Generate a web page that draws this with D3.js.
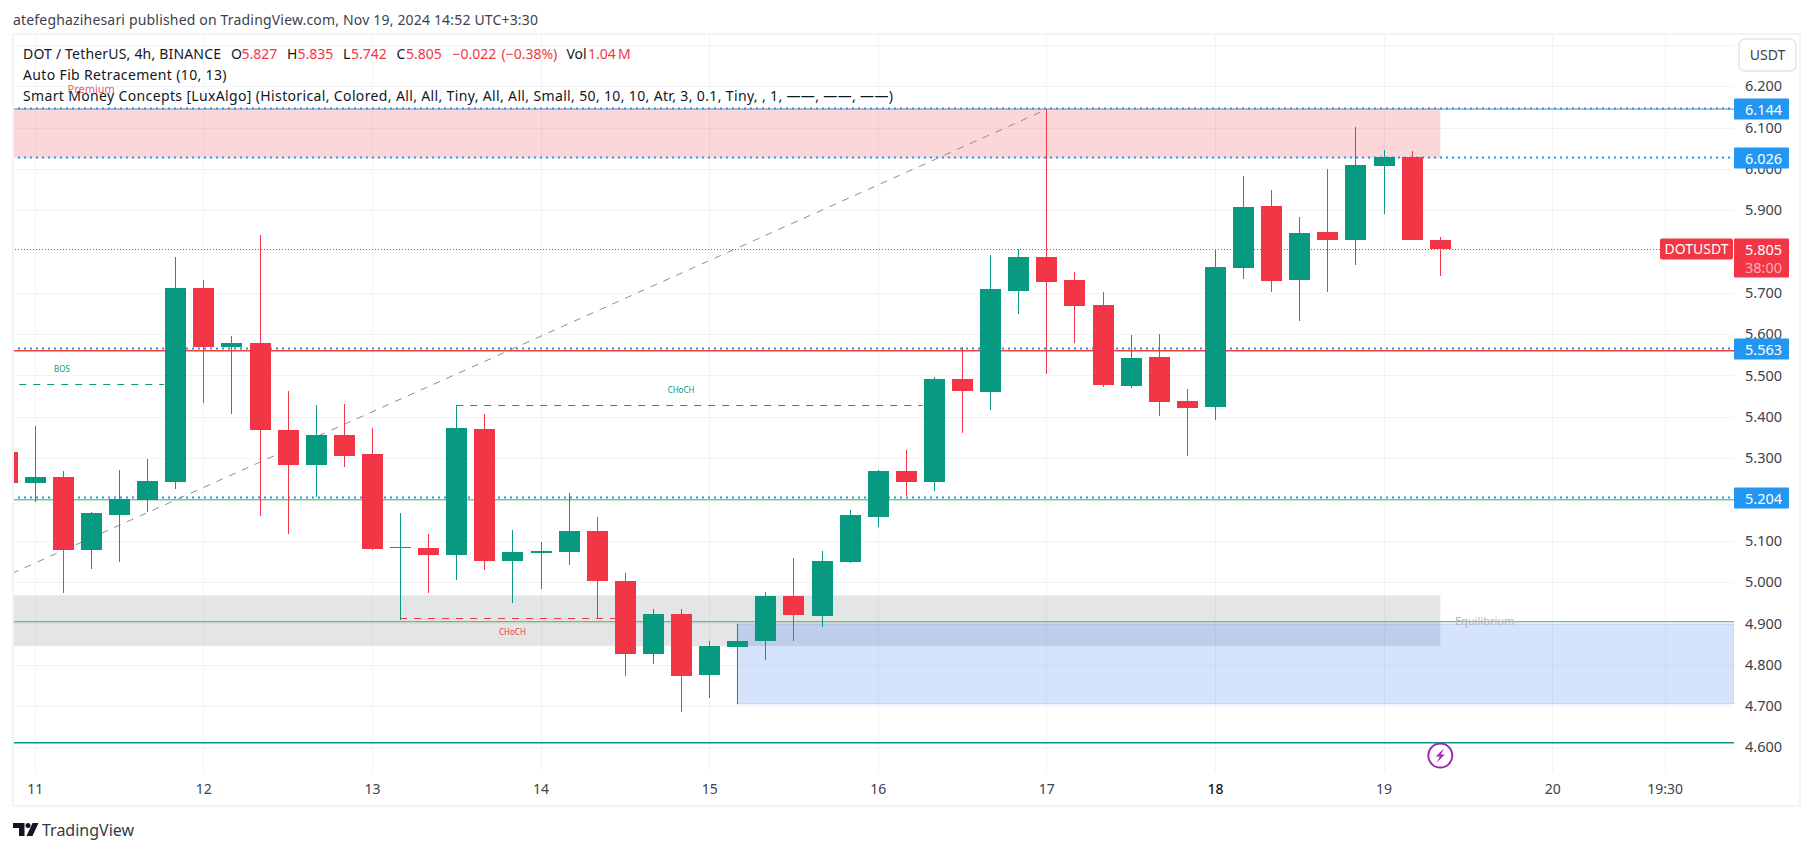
<!DOCTYPE html>
<html>
<head>
<meta charset="utf-8">
<title>DOT / TetherUS, 4h</title>
<script src="https://cdn.jsdelivr.net/npm/d3@7"></script>
<style>
  html, body { margin: 0; padding: 0; background: #fff; }
  svg { display: block; font-family: "Noto Sans", sans-serif; }
</style>
</head>
<body>
<div id="chart"></div>
<script>
// 4h candles, first one (index -1) is cut off by the left edge
const firstBar = -1;
const opens = [5.315, 5.240, 5.254, 5.078, 5.162, 5.199, 5.242, 5.712, 5.569, 5.579, 5.368, 5.283, 5.356, 5.310, 5.082, 5.082, 5.065, 5.370, 5.051, 5.070, 5.073, 5.124, 5.002, 4.826, 4.923, 4.775, 4.843, 4.857, 4.966, 4.918, 5.049, 5.157, 5.269, 5.242, 5.492, 5.460, 5.705, 5.787, 5.731, 5.671, 5.475, 5.545, 5.438, 5.424, 5.760, 5.910, 5.731, 5.847, 5.827, 6.007, 6.029, 5.827];
const highs = [5.315, 5.378, 5.269, 5.170, 5.271, 5.298, 5.787, 5.731, 5.596, 5.840, 5.462, 5.429, 5.431, 5.373, 5.167, 5.116, 5.429, 5.407, 5.126, 5.097, 5.215, 5.157, 5.022, 4.935, 4.935, 4.857, 4.898, 4.976, 5.058, 5.075, 5.174, 5.271, 5.320, 5.496, 5.569, 5.792, 5.806, 6.145, 5.750, 5.702, 5.598, 5.600, 5.467, 5.804, 5.983, 5.949, 5.884, 6.000, 6.102, 6.046, 6.043, 5.835];
const lows = [5.240, 5.194, 4.973, 5.032, 5.049, 5.170, 5.225, 5.433, 5.407, 5.160, 5.116, 5.206, 5.278, 5.078, 4.908, 4.973, 5.005, 5.029, 4.949, 4.983, 5.041, 4.913, 4.773, 4.802, 4.685, 4.719, 4.705, 4.811, 4.857, 4.891, 5.046, 5.133, 5.208, 5.220, 5.361, 5.416, 5.649, 5.504, 5.579, 5.472, 5.470, 5.402, 5.305, 5.392, 5.734, 5.702, 5.632, 5.702, 5.767, 5.891, 5.827, 5.742];
const closes = [5.240, 5.254, 5.078, 5.167, 5.201, 5.245, 5.712, 5.570, 5.579, 5.368, 5.283, 5.356, 5.305, 5.080, 5.085, 5.065, 5.373, 5.051, 5.073, 5.075, 5.124, 5.002, 4.826, 4.923, 4.773, 4.845, 4.857, 4.966, 4.920, 5.051, 5.162, 5.269, 5.242, 5.492, 5.462, 5.709, 5.787, 5.726, 5.668, 5.477, 5.542, 5.436, 5.421, 5.763, 5.908, 5.729, 5.845, 5.827, 6.010, 6.029, 5.827, 5.805];

const priceGrid = [4.6, 4.7, 4.8, 4.9, 5.0, 5.1, 5.2, 5.3, 5.4, 5.5, 5.6, 5.7, 5.9, 6.0, 6.1, 6.2, 6.3];
const priceTicks = [4.6, 4.7, 4.8, 4.9, 5.0, 5.1, 5.3, 5.4, 5.5, 5.6, 5.7, 5.9, 6.0, 6.1, 6.2];
const timeTicks = [0, 6, 12, 18, 24, 30, 36, 42, 48, 54, 58];
const timeLabels = ['11', '12', '13', '14', '15', '16', '17', '18', '19', '20', '19:30'];

// levels and zones of the two indicators
const pivotLevels = [6.144, 6.026, 5.563, 5.204];
const fibLevels = [6.145, 5.560, 5.199, 4.904, 4.611];
const fibColors = ['#6f84ad', '#f44336', '#81c784', '#4caf50', '#089981'];
const fibWidths = [1, 1.5, 1.5, 1, 1.5];
const zoneBars = [[-2, 50], [-2, 50], [25, 62]];
const zonePrices = [[6.144, 6.026], [4.968, 4.845], [4.898, 4.705]];
const zoneColors = ['#f23645', '#787b86', '#2d73f0'];
const trendBars = [-0.81, 36];
const trendPrices = [5.021, 6.144];
const structureLabels = ['BOS', 'CHoCH', 'CHoCH'];
const structurePrices = [5.479, 5.429, 4.912];
const structureStart = [-0.55, 15, 13];
const structureEnd = [4.6, 31.6, 21];
const structureLabelBars = [0.97, 23, 17];
const structureColors = ['#089981', '#089981', '#f23645'];

const lastPrice = 5.805;
const countdown = '38:00';
const currency = 'USDT';
const publishLine = 'atefeghazihesari published on TradingView.com, Nov 19, 2024 14:52 UTC+3:30';
const legendLine2 = 'Auto Fib Retracement (10, 13)';
const legendLine3 = 'Smart Money Concepts [LuxAlgo] (Historical, Colored, All, All, Tiny, All, All, Small, 50, 10, 10, Atr, 3, 0.1, Tiny, , 1, ——, ——, ——)';
const ohlcText = ['DOT / TetherUS, 4h, BINANCE', 'O', '5.827', 'H', '5.835', 'L', '5.742', 'C', '5.805', '−0.022', '(−0.38%)', 'Vol', '1.04\u2009M'];
const ohlcX = [23, 231, 241.5, 287, 297.5, 343, 351, 396.5, 406, 452.5, 501.5, 566.5, 588];

const width = 1814;
const height = 851;
const plot = { left: 12, right: 1734, top: 35, bottom: 772 };

const textColor = '#131722';
const axisColor = '#3d414d';
const gridColor = '#f2f3f5';
const frameColor = '#f0f3fa';
const up = '#089981';
const down = '#f23645';
const blue = '#2196f3';

const bars = opens.map((open, i) => ({
  index: firstBar + i,
  open,
  high: highs[i],
  low: lows[i],
  close: closes[i],
}));

const x = d3.scaleLinear().domain([0, 48]).range([34.7, 1383.6]);
const y = d3.scaleLinear().domain([4.6, 6.2]).range([747.3, 86.3]);

const svg = d3
  .select('#chart')
  .append('svg')
  .attr('width', width)
  .attr('height', height)
  .attr('viewBox', `0 0 ${width} ${height}`);

svg
  .append('text')
  .attr('x', 13)
  .attr('y', 25)
  .attr('fill', '#3d414d')
  .attr('font-size', 14)
  .attr('textLength', 525)
  .text(publishLine);

/* Frame */
svg
  .append('rect')
  .attr('x', 13)
  .attr('y', 34)
  .attr('width', 1787)
  .attr('height', 772)
  .attr('fill', '#fff')
  .attr('stroke', frameColor)
  .attr('stroke-width', 2);

svg
  .append('defs')
  .append('clipPath')
  .attr('id', 'plot-clip')
  .append('rect')
  .attr('x', plot.left + 2)
  .attr('y', plot.top)
  .attr('width', plot.right - plot.left - 2)
  .attr('height', plot.bottom - plot.top);

const plotG = svg.append('g').attr('clip-path', 'url(#plot-clip)');

/* Grid */
plotG
  .selectAll('line.grid-x')
  .data(timeTicks)
  .join('line')
  .attr('class', 'grid-x')
  .attr('x1', (d) => Math.round(x(d)) + 0.5)
  .attr('x2', (d) => Math.round(x(d)) + 0.5)
  .attr('y1', plot.top)
  .attr('y2', plot.bottom)
  .attr('stroke', gridColor);

plotG
  .selectAll('line.grid-y')
  .data(priceGrid)
  .join('line')
  .attr('class', 'grid-y')
  .attr('x1', plot.left)
  .attr('x2', plot.right)
  .attr('y1', (d) => Math.round(y(d)) + 0.5)
  .attr('y2', (d) => Math.round(y(d)) + 0.5)
  .attr('stroke', gridColor);

/* Zones */
zonePrices.forEach((zone, i) => {
  plotG
    .append('rect')
    .attr('x', x(zoneBars[i][0]))
    .attr('y', y(zone[0]))
    .attr('width', Math.min(x(zoneBars[i][1]) + (i === 2 ? 0 : 0.5), plot.right) - x(zoneBars[i][0]))
    .attr('height', y(zone[1]) - y(zone[0]))
    .attr('fill', zoneColors[i])
    .attr('fill-opacity', 0.2)
    .attr('stroke', i === 2 ? '#2d73f0' : 'none')
    .attr('stroke-opacity', 0.2);
});

/* Auto fib levels */
plotG
  .selectAll('line.fib')
  .data(fibLevels)
  .join('line')
  .attr('class', 'fib')
  .attr('x1', plot.left)
  .attr('x2', plot.right)
  .attr('y1', (d) => y(d))
  .attr('y2', (d) => y(d))
  .attr('stroke', (_, i) => fibColors[i])
  .attr('stroke-width', (_, i) => fibWidths[i]);

/* Horizontal dotted levels */
plotG
  .selectAll('line.pivot')
  .data(pivotLevels)
  .join('line')
  .attr('class', 'pivot')
  .attr('x1', plot.left)
  .attr('x2', plot.right)
  .attr('y1', (d) => Math.round(y(d)) - 0.5)
  .attr('y2', (d) => Math.round(y(d)) - 0.5)
  .attr('stroke', blue)
  .attr('stroke-width', 2)
  .attr('stroke-dasharray', '2 4');

/* Last price line */
plotG
  .append('line')
  .attr('x1', plot.left)
  .attr('x2', plot.right)
  .attr('y1', Math.round(y(lastPrice)) + 0.5)
  .attr('y2', Math.round(y(lastPrice)) + 0.5)
  .attr('stroke', down)
  .attr('stroke-dasharray', '1 2');

/* Fib trend line */
plotG
  .append('line')
  .attr('x1', x(trendBars[0]))
  .attr('y1', y(trendPrices[0]))
  .attr('x2', x(trendBars[1]))
  .attr('y2', y(trendPrices[1]))
  .attr('stroke', '#8a8d96')
  .attr('stroke-dasharray', '7 7');

/* BOS / CHoCH */
plotG
  .selectAll('line.structure')
  .data(structurePrices)
  .join('line')
  .attr('class', 'structure')
  .attr('x1', (_, i) => x(structureStart[i]))
  .attr('x2', (_, i) => x(structureEnd[i]))
  .attr('y1', (d) => Math.round(y(d)) + 0.5)
  .attr('y2', (d) => Math.round(y(d)) + 0.5)
  .attr('stroke', (_, i) => structureColors[i])
  .attr('stroke-dasharray', '7 7');

plotG
  .selectAll('text.structure')
  .data(structureLabels)
  .join('text')
  .attr('class', 'structure')
  .attr('x', (_, i) => x(structureLabelBars[i]))
  .attr('y', (_, i) => y(structurePrices[i]) + (i === 2 ? 17 : -12))
  .attr('text-anchor', 'middle')
  .attr('font-size', 8)
  .attr('fill', (_, i) => structureColors[i])
  .text((d) => d);

/* Candles */
const candle = plotG
  .selectAll('g.candle')
  .data(bars)
  .join('g')
  .attr('class', 'candle')
  .attr('fill', (d) => (d.close >= d.open ? up : down))
  .attr('shape-rendering', 'crispEdges');

candle
  .append('rect')
  .attr('x', (d) => Math.round(x(d.index)))
  .attr('width', 1)
  .attr('y', (d) => y(d.high))
  .attr('height', (d) => y(d.low) - y(d.high));

candle
  .append('rect')
  .attr('x', (d) => Math.round(x(d.index)) - 10)
  .attr('width', 21)
  .attr('y', (d) => Math.round(y(Math.max(d.open, d.close))))
  .attr('height', (d) => Math.max(1, Math.round(y(Math.min(d.open, d.close))) - Math.round(y(Math.max(d.open, d.close)))));

/* Indicator texts that sit on the chart */
plotG
  .append('text')
  .attr('x', 67.5)
  .attr('y', 92.5)
  .attr('font-size', 11)
  .attr('fill', down)
  .attr('fill-opacity', 0.85)
  .text('Premium');

plotG
  .append('text')
  .attr('x', 1455)
  .attr('y', 625)
  .attr('font-size', 11)
  .attr('fill', '#b2b5be')
  .text('Equilibrium');

/* Event marker */
const marker = svg
  .append('g')
  .attr('transform', `translate(${x(50) + 0.5},${y(4.615) + 14.5})`);

marker
  .append('circle')
  .attr('r', 12)
  .attr('fill', '#fff')
  .attr('stroke', '#9c27b0')
  .attr('stroke-width', 2);

marker
  .append('path')
  .attr('d', 'M3.5,-7 L-4.5,1 L-0.5,1 L-3.5,7 L4.5,-1 L0.5,-1 Z')
  .attr('fill', '#9c27b0');

/* Legend */
const legend = svg.append('g').attr('font-size', 14);

legend
  .selectAll('text.ohlc')
  .data(ohlcText)
  .join('text')
  .attr('class', 'ohlc')
  .attr('x', (_, i) => ohlcX[i])
  .attr('y', 59)
  .attr('fill', (d, i) => (i === 0 || ['O', 'H', 'L', 'C', 'Vol'].includes(d) ? textColor : down))
  .attr('textLength', (_, i) => (i === 0 ? 198 : null))
  .text((d) => d);

legend.append('text').attr('x', 23).attr('y', 80).attr('fill', textColor).attr('textLength', 203.5).text(legendLine2);
legend.append('text').attr('x', 23).attr('y', 101).attr('fill', textColor).attr('textLength', 870).text(legendLine3);

/* Price axis */
const priceAxis = svg
  .append('g')
  .attr('transform', 'translate(1763.5,0)')
  .call(d3.axisRight(y).tickValues(priceTicks).tickSize(0).tickPadding(0).tickFormat(d3.format('.3f')));

priceAxis.select('.domain').remove();
priceAxis
  .selectAll('text')
  .attr('text-anchor', 'middle')
  .attr('font-family', '"Noto Sans", sans-serif')
  .attr('font-size', 14.5)
  .attr('fill', axisColor);

/* Currency button */
svg
  .append('rect')
  .attr('x', 1739)
  .attr('y', 39)
  .attr('width', 57)
  .attr('height', 32)
  .attr('rx', 6)
  .attr('fill', '#fff')
  .attr('stroke', '#e0e3eb')
  .attr('stroke-width', 1.5);

svg
  .append('text')
  .attr('x', 1767.5)
  .attr('y', 60)
  .attr('text-anchor', 'middle')
  .attr('font-size', 14)
  .attr('fill', axisColor)
  .text(currency);

/* Price labels */
const pivotLabel = svg
  .selectAll('g.pivot-label')
  .data(pivotLevels)
  .join('g')
  .attr('class', 'pivot-label')
  .attr('transform', (d) => `translate(1734,${Math.round(y(d))})`);

pivotLabel
  .append('rect')
  .attr('y', -10.5)
  .attr('width', 55)
  .attr('height', 21)
  .attr('rx', 1)
  .attr('fill', blue);

pivotLabel
  .append('text')
  .attr('x', 29.5)
  .attr('y', 5.5)
  .attr('text-anchor', 'middle')
  .attr('font-size', 14.5)
  .attr('fill', '#fff')
  .text((d) => d3.format('.3f')(d));

const lastG = svg.append('g').attr('transform', `translate(1734,${Math.round(y(lastPrice))})`);

lastG
  .append('rect')
  .attr('y', -10.5)
  .attr('width', 55)
  .attr('height', 39)
  .attr('rx', 1)
  .attr('fill', down);

lastG
  .append('text')
  .attr('x', 29.5)
  .attr('y', 5.5)
  .attr('text-anchor', 'middle')
  .attr('font-size', 14.5)
  .attr('fill', '#fff')
  .text(d3.format('.3f')(lastPrice));

lastG
  .append('text')
  .attr('x', 29.5)
  .attr('y', 23.5)
  .attr('text-anchor', 'middle')
  .attr('font-size', 14.5)
  .attr('fill', '#fff')
  .attr('fill-opacity', 0.6)
  .text(countdown);

lastG
  .append('rect')
  .attr('x', -74)
  .attr('y', -10.5)
  .attr('width', 73)
  .attr('height', 21)
  .attr('rx', 2)
  .attr('fill', down);

lastG
  .append('text')
  .attr('x', -37.5)
  .attr('y', 5)
  .attr('text-anchor', 'middle')
  .attr('font-size', 14)
  .attr('fill', '#fff')
  .text('DOTUSDT');

/* Time axis */
const timeAxis = svg
  .append('g')
  .attr('transform', 'translate(0,784)')
  .call(
    d3
      .axisBottom(x)
      .tickValues(timeTicks)
      .tickSize(0)
      .tickPadding(0)
      .tickFormat((_, i) => timeLabels[i])
  );

timeAxis.select('.domain').remove();
timeAxis
  .selectAll('text')
  .attr('font-family', '"Noto Sans", sans-serif')
  .attr('font-size', 14)
  .attr('fill', (d) => (d === 42 ? textColor : axisColor))
  .attr('font-weight', (d) => (d === 42 ? 500 : 400));

/* TradingView logo */
const logo = svg.append('g').attr('transform', 'translate(13,823)');

logo
  .append('path')
  .attr('d', 'M0,0 H11.5 V13 H6 V5 H0 Z M25.5,0 L19.5,13 H13.5 L19.5,0 Z')
  .attr('fill', '#131722');

logo.append('circle').attr('cx', 15).attr('cy', 2.5).attr('r', 2.5).attr('fill', '#131722');

svg
  .append('text')
  .attr('x', 42)
  .attr('y', 836)
  .attr('font-size', 16)
  .attr('fill', '#363a45')
  .text('TradingView');
</script>
</body>
</html>
